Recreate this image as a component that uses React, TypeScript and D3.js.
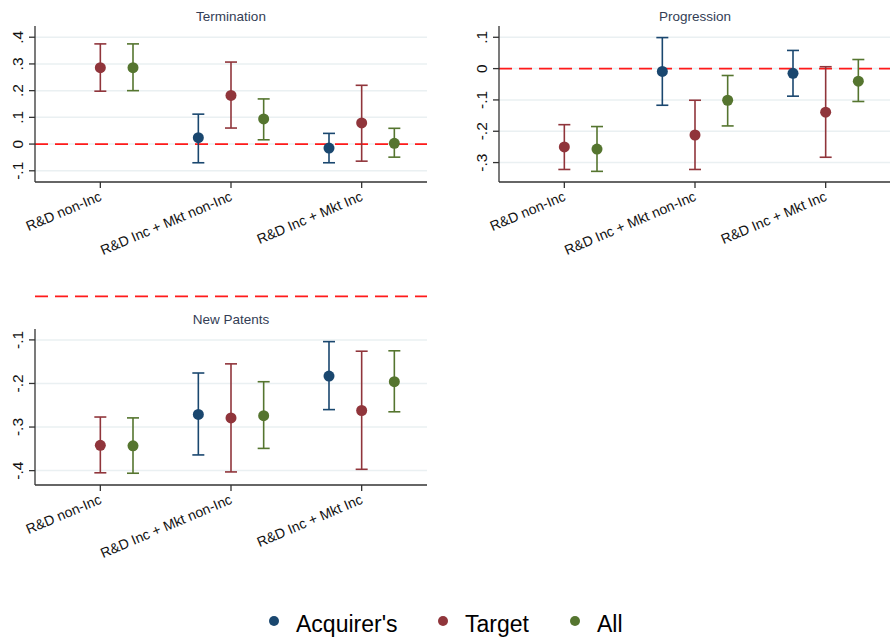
import React from "react";
import * as d3 from "d3";

const categories = ["R&D non-Inc", "R&D Inc + Mkt non-Inc", "R&D Inc + Mkt Inc"];
const seriesNames = ["Acquirer's", "Target", "All"];
const seriesColors = ["#1a476f", "#90353b", "#55752f"];

// Termination
const termAcq = [null, 0.024, -0.015];
const termAcqLo = [null, -0.07, -0.07];
const termAcqHi = [null, 0.112, 0.04];
const termTgt = [0.286, 0.182, 0.079];
const termTgtLo = [0.198, 0.06, -0.064];
const termTgtHi = [0.375, 0.307, 0.22];
const termAll = [0.286, 0.094, 0.003];
const termAllLo = [0.2, 0.016, -0.049];
const termAllHi = [0.375, 0.169, 0.059];
const termTicks = [-0.1, 0, 0.1, 0.2, 0.3, 0.4];

// Progression
const progAcq = [null, -0.009, -0.015];
const progAcqLo = [null, -0.117, -0.088];
const progAcqHi = [null, 0.099, 0.058];
const progTgt = [-0.25, -0.212, -0.139];
const progTgtLo = [-0.322, -0.322, -0.283];
const progTgtHi = [-0.179, -0.101, 0.006];
const progAll = [-0.257, -0.101, -0.04];
const progAllLo = [-0.328, -0.183, -0.105];
const progAllHi = [-0.185, -0.022, 0.029];
const progTicks = [-0.3, -0.2, -0.1, 0, 0.1];

// New Patents
const patAcq = [null, -0.271, -0.183];
const patAcqLo = [null, -0.364, -0.26];
const patAcqHi = [null, -0.176, -0.104];
const patTgt = [-0.342, -0.279, -0.262];
const patTgtLo = [-0.405, -0.403, -0.397];
const patTgtHi = [-0.277, -0.155, -0.126];
const patAll = [-0.343, -0.274, -0.196];
const patAllLo = [-0.406, -0.349, -0.265];
const patAllHi = [-0.279, -0.196, -0.125];
const patTicks = [-0.4, -0.3, -0.2, -0.1];

const FONT = "'Liberation Sans', Arial, sans-serif";

type Series = { est: (number | null)[]; lo: (number | null)[]; hi: (number | null)[] };

function fmt(v: number) {
  if (Math.abs(v) < 1e-9) return "0";
  return (v < 0 ? "-" : "") + "." + Math.round(Math.abs(v) * 10);
}

function Panel({
  title, x0, x1, y0, y1, domain, ticks, series,
}: {
  title: string; x0: number; x1: number; y0: number; y1: number;
  domain: [number, number]; ticks: number[]; series: Series[];
}) {
  const x = d3.scaleLinear().domain([0.5, 3.5]).range([x0, x1]);
  const y = d3.scaleLinear().domain(domain).range([y1, y0]);
  const offsets = [-0.25, 0, 0.25];
  const cap = 6;
  return (
    <g>
      <text x={(x0 + x1) / 2} y={y0 - 5.5} textAnchor="middle" fontSize={13.5} fill="#333d55" fontFamily={FONT}>
        {title}
      </text>
      {ticks.map((t) => (
        <line key={"g" + t} x1={x0} x2={x1} y1={y(t)} y2={y(t)} stroke="#eaf0f2" strokeWidth={1.5} />
      ))}
      <line x1={x0} x2={x1} y1={y(0)} y2={y(0)} stroke="#ff1a1a" strokeWidth={1.8} strokeDasharray="13,7" />
      {series.map((s, si) =>
        categories.map((c, ci) => {
          const e = s.est[ci];
          if (e == null) return null;
          const cx = x(ci + 1 + offsets[si]);
          const lo = s.lo[ci] as number;
          const hi = s.hi[ci] as number;
          const col = seriesColors[si];
          return (
            <g key={si + "-" + ci}>
              <line x1={cx} x2={cx} y1={y(lo)} y2={y(hi)} stroke={col} strokeWidth={1.6} />
              <line x1={cx - cap} x2={cx + cap} y1={y(lo)} y2={y(lo)} stroke={col} strokeWidth={1.6} />
              <line x1={cx - cap} x2={cx + cap} y1={y(hi)} y2={y(hi)} stroke={col} strokeWidth={1.6} />
              <circle cx={cx} cy={y(e)} r={5.5} fill={col} />
            </g>
          );
        })
      )}
      <line x1={x0} x2={x0} y1={y0} y2={y1} stroke="#333" strokeWidth={1.3} />
      <line x1={x0} x2={x1} y1={y1} y2={y1} stroke="#333" strokeWidth={1.3} />
      {ticks.map((t) => (
        <g key={"t" + t}>
          <line x1={x0 - 6} x2={x0} y1={y(t)} y2={y(t)} stroke="#333" strokeWidth={1.3} />
          <text
            transform={`translate(${x0 - 12},${y(t)}) rotate(-90)`}
            textAnchor="middle"
            fontSize={15.5}
            fill="#111"
            fontFamily={FONT}
          >
            {fmt(t)}
          </text>
        </g>
      ))}
      {categories.map((c, ci) => (
        <g key={"c" + ci}>
          <line x1={x(ci + 1)} x2={x(ci + 1)} y1={y1} y2={y1 + 6} stroke="#333" strokeWidth={1.3} />
          <text
            transform={`translate(${x(ci + 1) + 2},${y1 + 18}) rotate(-23)`}
            textAnchor="end"
            fontSize={14}
            fill="#111"
            fontFamily={FONT}
          >
            {c}
          </text>
        </g>
      ))}
    </g>
  );
}

export default function App() {
  const term: Series[] = [
    { est: termAcq, lo: termAcqLo, hi: termAcqHi },
    { est: termTgt, lo: termTgtLo, hi: termTgtHi },
    { est: termAll, lo: termAllLo, hi: termAllHi },
  ];
  const prog: Series[] = [
    { est: progAcq, lo: progAcqLo, hi: progAcqHi },
    { est: progTgt, lo: progTgtLo, hi: progTgtHi },
    { est: progAll, lo: progAllLo, hi: progAllHi },
  ];
  const pat: Series[] = [
    { est: patAcq, lo: patAcqLo, hi: patAcqHi },
    { est: patTgt, lo: patTgtLo, hi: patTgtHi },
    { est: patAll, lo: patAllLo, hi: patAllHi },
  ];
  const legendCircleX = [274, 443, 575];
  return (
    <svg width={890} height={640} style={{ position: "absolute", left: 0, top: 0, background: "#fff" }}>
      <rect width={890} height={640} fill="#fff" />
      <Panel title="Termination" x0={35} x1={427} y0={26} y1={182} domain={[-0.142, 0.442]} ticks={termTicks} series={term} />
      <Panel title="Progression" x0={499} x1={891} y0={26} y1={182} domain={[-0.362, 0.136]} ticks={progTicks} series={prog} />
      <Panel title="New Patents" x0={35} x1={427} y0={329} y1={485} domain={[-0.433, -0.075]} ticks={patTicks} series={pat} />
      {seriesNames.map((n, i) => (
        <g key={n}>
          <circle cx={legendCircleX[i]} cy={621} r={5} fill={seriesColors[i]} />
          <text x={legendCircleX[i] + 22} y={632} fontSize={23} fill="#000" fontFamily={FONT}>
            {n}
          </text>
        </g>
      ))}
    </svg>
  );
}
